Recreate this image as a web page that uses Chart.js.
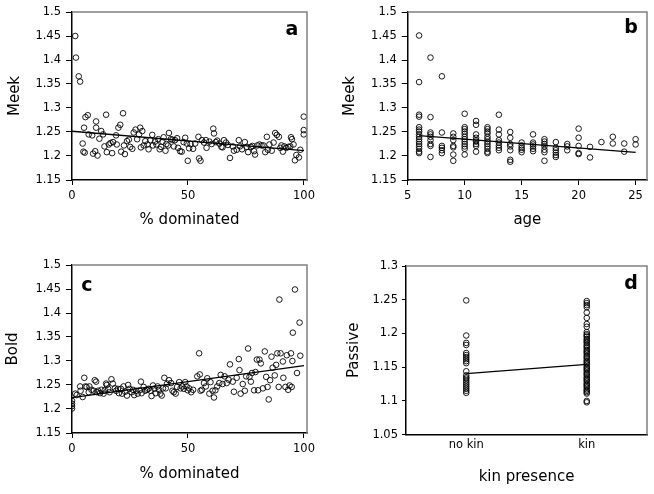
<!DOCTYPE html>
<html>
<head>
<meta charset="utf-8">
<script src="https://cdn.jsdelivr.net/npm/chart.js@4.4.0/dist/chart.umd.min.js"></script>
<style>
body { margin: 0; background: #fff; }
#wrap { position: relative; width: 654px; height: 494px; }
.panel { position: absolute; width: 327px; height: 247px; }
</style>
</head>
<body>
<div id="wrap">
  <div class="panel" style="left:0;top:0"><canvas id="chart-a" width="327" height="247"></canvas></div>
  <div class="panel" style="left:327px;top:0"><canvas id="chart-b" width="327" height="247"></canvas></div>
  <div class="panel" style="left:0;top:247px"><canvas id="chart-c" width="327" height="247"></canvas></div>
  <div class="panel" style="left:327px;top:247px"><canvas id="chart-d" width="327" height="247"></canvas></div>
</div>
<script>
// ---- data ----
// a: Meek vs % dominated
var aDominated = [
  1.4,1.7,2.9,3.5,4.6,4.9,5.5,5.2,5.8,6.8,
  7.2,8.7,9.1,10,10.4,10.4,11,11.8,12.6,13.4,
  14,14.7,15,15.9,16.6,17.3,17.7,19,19.3,20,
  20.8,21.2,22,22.4,22.8,23.7,24.5,25.1,26,26.6,
  27.4,28.1,28.9,29.4,29.7,30.3,30.9,31.6,32.5,33,
  33.8,34.6,34.9,35.8,36.4,37.2,37.8,38.4,39,39.5,
  40.3,40.7,41.4,41.8,42.6,43.3,43.9,44.4,45.3,45.7,
  46.6,47.3,48.1,48.8,49.5,49.9,50.5,51.1,52.2,53.1,
  54.5,54.8,55.4,56,56.9,57.7,58,59.2,60.2,60.9,
  61.2,62,62.6,63.5,64.4,64.9,65.5,66.4,67.2,68.1,
  69.3,69.8,71,71.9,72.4,73.3,74.5,75.3,75.9,77.1,
  77.8,78.5,78.9,79.9,80.8,81.7,82.5,83.3,84,84.4,
  85.1,86.1,86.9,87.6,88.3,89.2,89.8,90.3,90.9,91.5,
  92.4,93.2,94.1,94.4,94.8,95.5,96.1,96.7,97.8,98.4,
  99.9,99.9,99.9
];
var aMeek = [
  1.45,1.405,1.366,1.355,1.226,1.209,1.207,1.259,1.281,1.285,
  1.245,1.243,1.205,1.21,1.272,1.259,1.201,1.236,1.252,1.245,
  1.22,1.286,1.208,1.224,1.227,1.206,1.229,1.243,1.224,1.259,
  1.265,1.209,1.289,1.222,1.204,1.231,1.234,1.219,1.215,1.249,
  1.255,1.235,1.245,1.259,1.218,1.252,1.222,1.231,1.224,1.214,
  1.233,1.244,1.222,1.23,1.224,1.235,1.214,1.219,1.23,1.239,
  1.211,1.225,1.222,1.248,1.235,1.234,1.22,1.233,1.237,1.217,
  1.21,1.209,1.229,1.238,1.226,1.19,1.216,1.225,1.215,1.226,
  1.24,1.195,1.19,1.233,1.228,1.233,1.217,1.23,1.225,1.257,
  1.247,1.229,1.232,1.226,1.219,1.218,1.233,1.228,1.223,1.196,
  1.22,1.211,1.213,1.233,1.22,1.214,1.229,1.219,1.208,1.219,
  1.221,1.21,1.203,1.222,1.224,1.222,1.222,1.208,1.24,1.213,
  1.224,1.211,1.228,1.248,1.244,1.24,1.217,1.222,1.209,1.22,
  1.217,1.219,1.22,1.239,1.235,1.224,1.191,1.202,1.197,1.213,
  1.282,1.254,1.245
];
var aFitX = [0, 100];
var aFitY = [1.2516, 1.2112];

// b: Meek vs age (values grouped by age)
var bAges = [6,7,8,9,10,11,12,13,14,15,16,17,18,19,20,21,22,23,24,25];
var bMeekByAge = [
  [1.451,1.354,1.286,1.282,1.26,1.255,1.251,1.245,1.24,1.235,1.23,1.225,1.22,1.215,1.209,1.206],
  [1.405,1.281,1.249,1.245,1.24,1.233,1.225,1.221,1.198],
  [1.366,1.249,1.221,1.217,1.212,1.206],
  [1.247,1.24,1.233,1.221,1.218,1.203,1.19],
  [1.288,1.26,1.256,1.251,1.246,1.24,1.235,1.23,1.225,1.22,1.215,1.203],
  [1.273,1.265,1.245,1.238,1.233,1.23,1.225,1.221,1.209],
  [1.26,1.256,1.251,1.247,1.24,1.235,1.23,1.225,1.22,1.215,1.209,1.206],
  [1.286,1.255,1.245,1.233,1.228,1.222,1.217,1.212],
  [1.25,1.238,1.225,1.22,1.212,1.192,1.188],
  [1.228,1.222,1.217,1.213,1.208],
  [1.245,1.228,1.224,1.22,1.215,1.21],
  [1.235,1.23,1.225,1.22,1.213,1.208,1.19],
  [1.229,1.217,1.212,1.207,1.202,1.198],
  [1.225,1.22,1.212],
  [1.257,1.238,1.221,1.206,1.204],
  [1.219,1.197],
  [1.229],
  [1.24,1.226],
  [1.226,1.209],
  [1.235,1.224]
];
var bFitX = [6, 25];
var bFitY = [1.2425, 1.2077];

// c: Bold vs % dominated
var cDominated = [
  0,0,0,0,1.4,2,3.5,3.7,4.6,5.3,
  5.8,6.3,7.2,7.5,8.4,9.4,9.8,10.4,10.7,11.3,
  12.1,12.7,13.6,14.1,14.7,15,15.6,16.2,17,17.6,
  18.5,19,19.8,20.2,21.1,21.6,22.2,22.9,23.7,24.2,
  24.8,25.7,26.3,26.8,27.7,28.3,29.1,29.7,30,30.9,
  31.5,32.3,32.9,33.8,34.3,34.9,35.5,36.1,36.9,37.5,
  38.1,38.7,39.2,39.8,40.4,41,41.8,42.7,43.3,43.9,
  44.7,45.3,46.2,46.8,47.6,48.2,48.8,49.4,49.9,50.5,
  51.4,52.2,54,54.8,55.1,55.4,56,56.9,57.7,58.3,
  59.2,59.7,60.6,61.2,61.8,62.6,63.5,64.1,64.9,65.8,
  66.7,67.5,68.1,69.3,69.8,71,71.9,72.2,72.7,73.6,
  74.5,75.1,75.9,76.5,77.1,77.6,78.5,79.1,79.7,80.2,
  80.8,81.4,82.3,83.1,83.7,84.3,84.8,85.4,86,86.5,
  87.4,88,88.5,89.1,89.4,89.9,90.9,91.1,92,92.6,
  93.2,93.8,94.4,94.7,95,95.2,96.1,97,98.1,98.4
];
var cBold = [
  1.217,1.211,1.206,1.201,1.232,1.229,1.247,1.238,1.225,1.265,
  1.247,1.246,1.235,1.247,1.24,1.238,1.26,1.257,1.235,1.238,
  1.233,1.24,1.232,1.239,1.253,1.25,1.242,1.235,1.262,1.253,
  1.243,1.238,1.242,1.233,1.242,1.232,1.247,1.236,1.228,1.25,
  1.242,1.235,1.24,1.229,1.238,1.232,1.239,1.257,1.233,1.246,
  1.238,1.24,1.242,1.238,1.227,1.249,1.242,1.233,1.247,1.24,
  1.232,1.228,1.243,1.265,1.243,1.253,1.26,1.254,1.238,1.235,
  1.232,1.246,1.256,1.243,1.247,1.242,1.256,1.247,1.239,1.243,
  1.235,1.24,1.268,1.316,1.272,1.238,1.24,1.254,1.247,1.264,
  1.232,1.256,1.238,1.224,1.239,1.247,1.254,1.271,1.252,1.268,
  1.254,1.261,1.293,1.257,1.236,1.265,1.304,1.281,1.232,1.252,
  1.238,1.268,1.326,1.267,1.257,1.275,1.239,1.277,1.303,1.239,
  1.303,1.295,1.243,1.32,1.267,1.246,1.22,1.26,1.309,1.286,
  1.27,1.292,1.316,1.246,1.428,1.316,1.299,1.265,1.246,1.312,
  1.24,1.249,1.316,1.246,1.3,1.359,1.449,1.275,1.38,1.311
];
var cFitX = [0, 100];
var cFitY = [1.2237, 1.2905];

// d: Passive by kin presence
var kinLabels = ['no kin', 'kin'];
var dNoKin = [1.249,1.197,1.186,1.183,1.171,1.168,1.165,1.162,1.159,1.156,1.144,
  1.138,1.135,1.133,1.13,1.127,1.124,1.121,1.118,1.115,1.112];
var dKin = [1.248,1.245,1.242,1.239,1.231,1.223,1.214,1.21,1.202,
  1.199,1.197,1.195,1.192,1.19,1.188,1.186,1.183,1.181,1.179,1.176,1.174,1.172,1.17,
  1.167,1.165,1.163,1.16,1.158,1.156,1.154,1.151,1.149,1.147,1.145,1.142,1.14,1.138,
  1.135,1.133,1.131,1.129,1.126,1.124,1.122,1.12,1.117,1.115,1.113,1.111,1.1,1.098];
var dFitY = [1.1404, 1.1543];

// tick values
var pctTicks = [0, 50, 100];
var ageTicks = [5, 10, 15, 20, 25];
var meekTicks = [1.15, 1.2, 1.25, 1.3, 1.35, 1.4, 1.45, 1.5];
var passiveTicks = [1.05, 1.1, 1.15, 1.2, 1.25, 1.3];

Chart.defaults.font.family = '"DejaVu Sans", Verdana, sans-serif';
Chart.defaults.color = '#000';

function zip(xs, ys) {
  return xs.map(function (x, i) { return { x: x, y: ys[i] }; });
}

function fixTicks(values) {
  return function (axis) {
    axis.ticks = values.map(function (v) { return { value: v }; });
  };
}

var framePlugin = {
  id: 'frame',
  afterDatasetsDraw: function (chart, args, opts) {
    var a = chart.chartArea, ctx = chart.ctx;
    ctx.save();
    ctx.strokeStyle = '#808080';
    ctx.lineWidth = 1.5;
    ctx.beginPath();
    ctx.moveTo(a.left, a.top);
    ctx.lineTo(a.right, a.top);
    ctx.lineTo(a.right, a.bottom);
    ctx.stroke();
    if (opts.letter) {
      ctx.fillStyle = '#000';
      ctx.font = 'bold 19px "DejaVu Sans", Verdana, sans-serif';
      ctx.textAlign = 'center';
      ctx.textBaseline = 'middle';
      var lx = opts.fromRight ? a.right - opts.dx : a.left + opts.dx;
      ctx.fillText(opts.letter, lx, a.top + opts.dy);
    }
    ctx.restore();
  }
};

var scatterStyle = {
  type: 'scatter',
  pointRadius: 2.8,
  pointHoverRadius: 2.8,
  pointStyle: 'circle',
  borderColor: '#000',
  backgroundColor: 'rgba(0,0,0,0)',
  borderWidth: 0.9
};

function fitLine(points) {
  return {
    type: 'line',
    data: points,
    borderColor: '#000',
    borderWidth: 1.3,
    pointRadius: 0,
    fill: false,
    order: -1
  };
}

function makePanel(id, p) {
  var xAxis = {
    type: p.xType || 'linear',
    min: p.xMin,
    max: p.xMax,
    offset: p.xType === 'category',
    border: { color: '#000', width: 1.5 },
    grid: { drawOnChartArea: false, drawTicks: p.xTickLen > 0, tickLength: p.xTickLen, color: '#000' },
    ticks: { font: { size: 11.5 }, padding: p.xTickPad, maxRotation: 0 },
    title: { display: true, text: p.xTitle, font: { size: 15 }, padding: { top: 0, bottom: p.xTitlePad } },
    afterFit: function (s) { s.height = p.xHeight; }
  };
  if (p.xType === 'category') {
    xAxis.labels = p.xLabels;
  } else {
    xAxis.afterBuildTicks = fixTicks(p.xTicks);
  }
  new Chart(document.getElementById(id), {
    type: 'scatter',
    data: { datasets: p.datasets },
    plugins: [framePlugin],
    options: {
      responsive: false,
      animation: false,
      events: [],
      layout: { padding: { top: p.padTop, right: p.padRight, left: 0, bottom: 0 } },
      scales: {
        x: xAxis,
        y: {
          min: p.yTicks[0],
          max: p.yTicks[p.yTicks.length - 1],
          border: { color: '#000', width: 1.5 },
          grid: { drawOnChartArea: false, tickLength: p.yTickLen, color: '#000' },
          afterBuildTicks: fixTicks(p.yTicks),
          ticks: {
            font: { size: 11.5 },
            padding: p.yTickPad,
            callback: function (v) { return String(parseFloat(Number(v).toFixed(2))); }
          },
          title: { display: true, text: p.yTitle, font: { size: 15 }, padding: { top: p.yTitlePad, bottom: 0 } },
          afterFit: function (s) { s.width = p.yWidth; }
        }
      },
      plugins: {
        legend: { display: false },
        tooltip: { enabled: false },
        frame: p.letter
      }
    }
  });
}

// a
makePanel('chart-a', {
  datasets: [
    Object.assign({ data: zip(aDominated, aMeek) }, scatterStyle),
    fitLine(zip(aFitX, aFitY))
  ],
  xMin: 0, xMax: 101.3, xTicks: pctTicks, xTitle: '% dominated',
  yTicks: meekTicks, yTitle: 'Meek',
  padTop: 12, padRight: 20, yWidth: 72, xHeight: 67,
  xTickLen: 5, xTickPad: 4, yTickLen: 6, yTickPad: 5,
  xTitlePad: 18, yTitlePad: 6,
  letter: { letter: 'a', fromRight: true, dx: 15, dy: 18 }
});

// b
var bPoints = [];
bAges.forEach(function (age, i) {
  bMeekByAge[i].forEach(function (v) { bPoints.push({ x: age, y: v }); });
});
makePanel('chart-b', {
  datasets: [
    Object.assign({ data: bPoints }, scatterStyle),
    fitLine(zip(bFitX, bFitY))
  ],
  xMin: 5, xMax: 26, xTicks: ageTicks, xTitle: 'age',
  yTicks: meekTicks, yTitle: 'Meek',
  padTop: 12, padRight: 7, yWidth: 80.7, xHeight: 67,
  xTickLen: 5, xTickPad: 4, yTickLen: 6, yTickPad: 5,
  xTitlePad: 18, yTitlePad: 14,
  letter: { letter: 'b', fromRight: true, dx: 16, dy: 16 }
});

// c
makePanel('chart-c', {
  datasets: [
    Object.assign({ data: zip(cDominated, cBold) }, scatterStyle),
    fitLine(zip(cFitX, cFitY))
  ],
  xMin: 0, xMax: 101.3, xTicks: pctTicks, xTitle: '% dominated',
  yTicks: meekTicks, yTitle: 'Bold',
  padTop: 18, padRight: 20, yWidth: 72, xHeight: 61,
  xTickLen: 5, xTickPad: 4, yTickLen: 6, yTickPad: 5,
  xTitlePad: 11, yTitlePad: 4,
  letter: { letter: 'c', fromRight: false, dx: 15, dy: 21 }
});

// d
var dPoints = dNoKin.map(function (v) { return { x: kinLabels[0], y: v }; })
  .concat(dKin.map(function (v) { return { x: kinLabels[1], y: v }; }));
makePanel('chart-d', {
  datasets: [
    Object.assign({ data: dPoints }, scatterStyle),
    fitLine(zip(kinLabels, dFitY))
  ],
  xType: 'category', xLabels: kinLabels, xTitle: 'kin presence',
  yTicks: passiveTicks, yTitle: 'Passive',
  padTop: 19, padRight: 7, yWidth: 79, xHeight: 59.3,
  xTickLen: 0, xTickPad: 3, yTickLen: 4, yTickPad: 4,
  xTitlePad: 8, yTitlePad: 17.7,
  letter: { letter: 'd', fromRight: true, dx: 16, dy: 18 }
});
</script>
</body>
</html>
